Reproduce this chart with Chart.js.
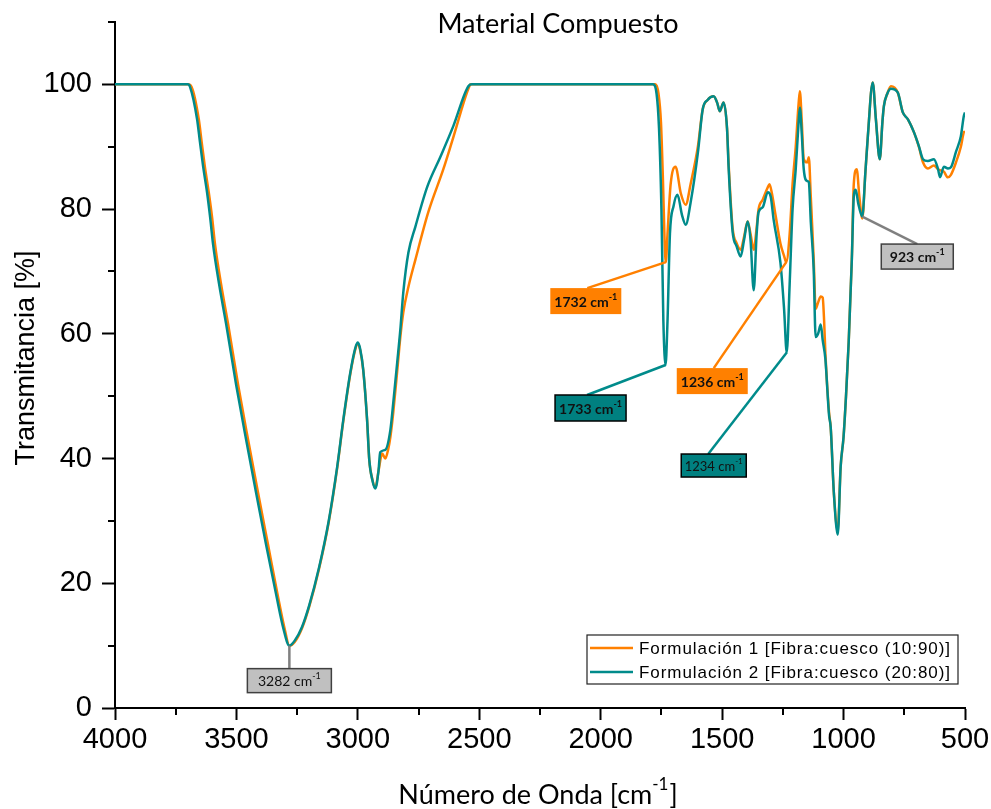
<!DOCTYPE html>
<html>
<head>
<meta charset="utf-8">
<script src="https://cdn.jsdelivr.net/npm/chart.js@4.4.1/dist/chart.umd.min.js"></script>
<style>
  html, body { margin: 0; padding: 0; background: #ffffff; }
  #wrap { width: 991px; height: 809px; }
</style>
</head>
<body>
<div id="wrap"><canvas id="chart" width="991" height="809"></canvas></div>
<script>
// FTIR spectra: wavenumber (cm-1) and transmittance (%)
const waveF1 = [4000, 3700, 3685, 3655, 3643, 3630, 3614, 3600, 3588, 3563, 3534, 3493, 3452, 3411, 3370, 3330, 3302, 3282, 3260, 3230, 3200, 3160, 3120, 3085, 3060, 3031, 3010, 3000, 2990, 2978, 2962, 2953, 2940, 2928, 2915, 2900, 2887, 2875, 2866, 2854, 2838, 2825, 2813, 2792, 2763, 2710, 2648, 2607, 2545, 2535, 1775, 1762, 1752, 1744, 1737, 1732, 1725, 1712, 1692, 1670, 1650, 1630, 1600, 1580, 1560, 1535, 1520, 1510, 1494, 1480, 1473, 1457, 1440, 1424, 1410, 1395, 1383, 1370, 1358, 1350, 1333, 1312, 1305, 1295, 1280, 1260, 1245, 1236, 1222, 1210, 1197, 1185, 1180, 1172, 1164, 1150, 1143, 1135, 1123, 1115, 1105, 1094, 1086, 1080, 1075, 1060, 1053, 1040, 1024, 1012, 1000, 990, 979, 966, 958, 946, 935, 923, 910, 900, 880, 867, 851, 840, 834, 820, 805, 777, 756, 735, 710, 690, 673, 653, 628, 611, 600, 587, 571, 558, 537, 517, 505, 500];
const transF1 = [100, 100, 99.6, 94.4, 90.7, 86.8, 82.7, 78.6, 74.3, 67.9, 61.5, 51.8, 43, 34.5, 26.2, 18.1, 12.8, 10, 10.6, 12.8, 16.3, 22.3, 29.8, 38.5, 46, 53.6, 57.6, 58.4, 57.3, 54.2, 46.2, 39.8, 36.6, 35.3, 38, 40.8, 40, 41.5, 43.5, 47.5, 54, 59.5, 63.4, 67.5, 71.9, 79.5, 86.4, 91.5, 99.3, 100, 100, 98.5, 94, 85, 75, 71.5, 76, 84, 86.8, 82.5, 80.7, 84, 90, 96, 97.5, 98.1, 97, 95.7, 97.1, 93, 87, 77, 74.5, 73.5, 75.5, 78, 76, 73.5, 77, 80, 81.5, 83.5, 84, 82.5, 79, 74.5, 72.5, 71.5, 76, 84, 90, 97, 98.9, 94, 88, 87.5, 88.3, 82, 72, 64, 65, 66, 65.8, 62, 57, 47.5, 45, 34.5, 28.5, 38.7, 43.5, 50, 58.6, 72, 84, 86.4, 82, 78.5, 86, 91.7, 100.3, 94.5, 88, 94, 96.5, 98.5, 99.7, 98.7, 95.5, 94.4, 92.3, 90, 87.5, 86.5, 87, 86.4, 86.2, 86, 85.1, 85.5, 87.5, 90, 92.3, 92.5];

const waveF2 = [4000, 3700, 3691, 3662, 3650, 3637, 3621, 3608, 3596, 3571, 3542, 3501, 3460, 3419, 3378, 3336, 3307, 3282, 3260, 3230, 3200, 3160, 3120, 3085, 3060, 3031, 3010, 3000, 2990, 2978, 2962, 2953, 2940, 2928, 2915, 2908, 2887, 2866, 2854, 2838, 2825, 2813, 2792, 2763, 2714, 2660, 2607, 2545, 2530, 1785, 1770, 1760, 1750, 1742, 1733, 1725, 1715, 1700, 1684, 1665, 1650, 1630, 1600, 1580, 1560, 1535, 1520, 1510, 1494, 1480, 1473, 1457, 1440, 1424, 1410, 1395, 1383, 1370, 1358, 1350, 1333, 1312, 1300, 1288, 1260, 1245, 1234, 1222, 1210, 1197, 1185, 1180, 1172, 1164, 1150, 1143, 1135, 1123, 1115, 1105, 1094, 1086, 1075, 1060, 1053, 1040, 1024, 1012, 1000, 990, 979, 966, 958, 950, 940, 923, 910, 900, 880, 867, 851, 840, 834, 820, 805, 777, 756, 735, 710, 690, 673, 653, 628, 611, 603, 587, 570, 558, 537, 517, 505, 500];
const transF2 = [100, 100, 99.6, 94.4, 90.7, 86.8, 82.7, 78.6, 74.3, 67.9, 61.5, 51.8, 43, 34.5, 26.2, 18.1, 12.8, 10, 10.8, 13, 16.5, 22.5, 30, 38.7, 46.2, 53.8, 57.8, 58.6, 57.5, 54.3, 46.2, 39.8, 36.5, 35.2, 38, 41, 41.4, 44.6, 49, 55.4, 60.7, 66.6, 73, 77.2, 83.6, 88.4, 93.3, 99.7, 100, 100, 98.5, 93, 80, 62, 55, 62, 76, 80.5, 82.3, 79, 77.5, 81, 89, 96, 97.5, 98.1, 97, 95.7, 97.1, 93, 86.4, 76.4, 74, 72.4, 75, 78, 75, 67, 76, 79.5, 80.3, 82.7, 82, 78.3, 71.4, 64, 57, 68, 80, 86.4, 94, 96.3, 92, 86.4, 84.5, 84.3, 78, 70.3, 59.5, 60, 61.5, 59, 56, 47, 45, 34.5, 27.8, 38.7, 43.5, 50, 58.6, 71.9, 82, 83.1, 81, 78.8, 86, 91.7, 100.3, 94.4, 88, 94, 96.5, 98.5, 99.3, 98.7, 95.5, 94.4, 92.3, 90.1, 88, 87.7, 88, 86.4, 85.1, 86.8, 86.5, 86.7, 89.2, 91.7, 94.9, 95.5];

const seriesLabels = ['Formulación 1 [Fibra:cuesco (10:90)]', 'Formulación 2 [Fibra:cuesco (20:80)]'];
const xTickValues = [4000, 3500, 3000, 2500, 2000, 1500, 1000, 500];
const xMinorValues = [3750, 3250, 2750, 2250, 1750, 1250, 750];
const yTickValues = [0, 20, 40, 60, 80, 100];
const yMinorValues = [10, 30, 50, 70, 90, 110];

// marked bands: wavenumber and the spectrum it belongs to
const peakWave = [3282, 1732, 1733, 1236, 1234, 923];
const peakSeries = [1, 0, 1, 0, 1, 1];

// look of each band label (box offset from the marked point, leader end, colours)
const peakStyle = [
  { dx: 0,   dy: 35,  lead: 0,    w: 84, h: 24, fill: '#c0c0c0', edge: '#404040', line: '#808080', bold: false, size: 14 },
  { dx: -80, dy: 39,  lead: 1.5,  w: 71, h: 26, fill: '#ff8000', edge: null,      line: '#ff8000', bold: true,  size: 14 },
  { dx: -75, dy: 43,  lead: -3.5, w: 71, h: 26, fill: '#008080', edge: '#000000', line: '#008b8b', bold: true,  size: 14 },
  { dx: -74, dy: 119, lead: 1.5,  w: 71, h: 26, fill: '#ff8000', edge: null,      line: '#ff8000', bold: true,  size: 14 },
  { dx: -73, dy: 113, lead: -5.5, w: 65, h: 23, fill: '#008080', edge: '#000000', line: '#008b8b', bold: false, size: 13 },
  { dx: 55,  dy: 40,  lead: 0,    w: 72, h: 25, fill: '#c0c0c0', edge: '#404040', line: '#808080', bold: true,  size: 14 }
];

const COLORS = ['#ff8000', '#008b8b'];
const TICK_FONT = '"Liberation Sans", Arial, sans-serif';
const TEXT_FONT = 'Lato, "Open Sans", sans-serif';

function supWidth(ctx, base, sup, size, weight) {
  ctx.font = `${weight} ${size}px ${TEXT_FONT}`;
  const wBase = ctx.measureText(base).width;
  ctx.font = `${weight} ${Math.round(size * 0.62)}px ${TEXT_FONT}`;
  return { wBase, wSup: ctx.measureText(sup).width };
}

function textWithSup(ctx, x, y, base, sup, size, weight, tail) {
  const { wBase, wSup } = supWidth(ctx, base, sup, size, weight);
  ctx.font = `${weight} ${size}px ${TEXT_FONT}`;
  const wTail = tail ? ctx.measureText(tail).width + 1 : 0;
  const left = x - (wBase + wSup + wTail) / 2;
  ctx.textAlign = 'left';
  ctx.textBaseline = 'middle';
  ctx.fillText(base, left, y);
  if (tail) ctx.fillText(tail, left + wBase + wSup + 1, y);
  ctx.font = `${weight} ${Math.round(size * 0.62)}px ${TEXT_FONT}`;
  ctx.fillText(sup, left + wBase, y - size * 0.38);
}

const overlay = {
  id: 'overlay',
  afterDatasetsDraw(chart) {
    const { ctx, chartArea: ca } = chart;
    const xs = chart.scales.x, ys = chart.scales.y;
    ctx.save();

    // minor ticks
    ctx.strokeStyle = '#000';
    ctx.lineWidth = 2;
    ctx.beginPath();
    xMinorValues.forEach(v => {
      const px = Math.round(xs.getPixelForValue(v));
      ctx.moveTo(px, ca.bottom); ctx.lineTo(px, ca.bottom + 7);
    });
    yMinorValues.forEach(v => {
      const py = Math.round(ys.getPixelForValue(v));
      ctx.moveTo(ca.left, py); ctx.lineTo(ca.left - 7, py);
    });
    ctx.stroke();

    // band labels with leader lines
    peakWave.forEach((wn, i) => {
      const st = peakStyle[i];
      const pts = chart.data.datasets[peakSeries[i]].data;
      const pt = pts.find(p => p.x === wn);
      const ax = xs.getPixelForValue(wn);
      const ay = ys.getPixelForValue(pt.y);
      const cx = ax + st.dx, cy = ay + st.dy;
      const top = cy - st.h / 2;
      ctx.strokeStyle = st.line;
      ctx.lineWidth = 2.5;
      ctx.beginPath();
      ctx.moveTo(ax, ay);
      ctx.lineTo(cx + st.lead, top);
      ctx.stroke();
      ctx.fillStyle = st.fill;
      ctx.fillRect(cx - st.w / 2, top, st.w, st.h);
      if (st.edge) {
        ctx.strokeStyle = st.edge;
        ctx.lineWidth = 1.5;
        ctx.strokeRect(cx - st.w / 2, top, st.w, st.h);
      }
      ctx.fillStyle = '#111';
      textWithSup(ctx, cx, cy + 1, wn + ' cm', '-1', st.size, st.bold ? 'bold' : 'normal');
    });

    // legend
    const lx = 587, ly = 635, lw = 371, lh = 49;
    ctx.fillStyle = '#fff';
    ctx.fillRect(lx, ly, lw, lh);
    ctx.strokeStyle = '#222';
    ctx.lineWidth = 1.2;
    ctx.strokeRect(lx, ly, lw, lh);
    chart.data.datasets.forEach((ds, i) => {
      const yy = ly + 13 + i * 24;
      ctx.strokeStyle = ds.borderColor;
      ctx.lineWidth = 2.5;
      ctx.beginPath();
      ctx.moveTo(lx + 3, yy); ctx.lineTo(lx + 46, yy);
      ctx.stroke();
      ctx.fillStyle = '#000';
      ctx.font = `17px ${TICK_FONT}`;
      ctx.letterSpacing = '0.95px';
      ctx.textAlign = 'left';
      ctx.textBaseline = 'middle';
      ctx.fillText(ds.label, lx + 52, yy + 1);
      ctx.letterSpacing = '0px';
    });

    // chart title
    ctx.fillStyle = '#000';
    ctx.font = `27px ${TEXT_FONT}`;
    ctx.textAlign = 'center';
    ctx.textBaseline = 'middle';
    ctx.fillText('Material Compuesto', 558, 24);

    // x axis title
    textWithSup(ctx, 538, 795, 'Número de Onda [cm', '-1', 27, 'normal', ']');

    // y axis title
    ctx.save();
    ctx.translate(27, 358);
    ctx.rotate(-Math.PI / 2);
    ctx.font = `27px ${TICK_FONT}`;
    ctx.textAlign = 'center';
    ctx.textBaseline = 'middle';
    ctx.fillText('Transmitancia [%]', 0, 0);
    ctx.restore();

    ctx.restore();
  }
};

new Chart(document.getElementById('chart'), {
  type: 'line',
  data: {
    datasets: [
      { label: seriesLabels[0], data: waveF1.map((w, i) => ({ x: w, y: transF1[i] })), borderColor: COLORS[0], borderWidth: 2.5, pointRadius: 0, cubicInterpolationMode: 'monotone', order: 1 },
      { label: seriesLabels[1], data: waveF2.map((w, i) => ({ x: w, y: transF2[i] })), borderColor: COLORS[1], borderWidth: 2.5, pointRadius: 0, cubicInterpolationMode: 'monotone', order: 0 }
    ]
  },
  options: {
    responsive: false,
    animation: false,
    devicePixelRatio: 1,
    layout: { padding: { left: 0, top: 22, right: 26, bottom: 0 } },
    plugins: { legend: { display: false }, tooltip: { enabled: false }, title: { display: false } },
    scales: {
      x: {
        type: 'linear', reverse: true, min: 500, max: 4000,
        afterBuildTicks: s => { s.ticks = xTickValues.map(v => ({ value: v })); },
        afterFit: s => { s.height = 101; s.paddingLeft = 0; s.paddingRight = 0; },
        ticks: { font: { family: TICK_FONT, size: 29 }, color: '#000', padding: 3, maxRotation: 0, autoSkip: false, callback: v => String(v) },
        grid: { display: true, drawOnChartArea: false, drawTicks: true, tickLength: 12, tickWidth: 2, tickColor: '#000' },
        border: { display: true, color: '#000', width: 2 }
      },
      y: {
        min: 0, max: 110,
        afterBuildTicks: s => { s.ticks = yTickValues.map(v => ({ value: v })); },
        afterFit: s => { s.width = 115; s.paddingTop = 0; s.paddingBottom = 0; },
        ticks: { font: { family: TICK_FONT, size: 29 }, color: '#000', padding: 10, callback: v => String(v) },
        grid: { display: true, drawOnChartArea: false, drawTicks: true, tickLength: 13, tickWidth: 2, tickColor: '#000' },
        border: { display: true, color: '#000', width: 2 }
      }
    }
  },
  plugins: [overlay]
});
</script>
</body>
</html>
